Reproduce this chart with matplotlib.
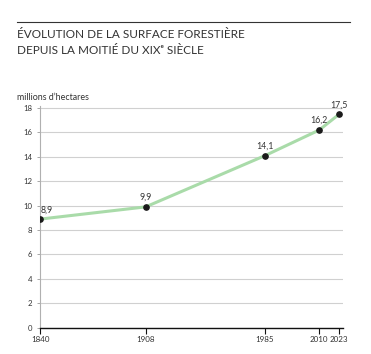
import numpy as np
import matplotlib.pyplot as plt

# data
years = [1840, 1908, 1985, 2010, 2023]
surface = [8.9, 9.9, 14.1, 16.2, 17.5]  # millions d'hectares
labels = ["8,9", "9,9", "14,1", "16,2", "17,5"]
yticks = [0, 2, 4, 6, 8, 10, 12, 14, 16, 18]

plt.rcParams['font.family'] = ['Lato', 'DejaVu Sans']

# the source chart is not quite linear in time: piecewise scale
anchor_yr = np.array([1700, 1840, 1985, 2010, 2023, 2200])
anchor_px = np.array([-176.7, 40.3, 265.0, 319.3, 339.3, 613.6])

def fwd(x):
    return np.interp(x, anchor_yr, anchor_px)

def inv(p):
    return np.interp(p, anchor_px, anchor_yr)

W, H = 371, 354
fig = plt.figure(figsize=(W / 100, H / 100), dpi=100)
ax = fig.add_axes([40.3 / W, 26.3 / H, 303 / W, 221.5 / H])
ax.set_xscale('function', functions=(fwd, inv))

ax.plot(years, surface, color='#a9dba9', lw=2.2, zorder=2,
        solid_capstyle='round', solid_joinstyle='round')
ax.plot(years, surface, 'o', color='#1a1a1a', ms=3.8, zorder=3)

for i, (x, y, t) in enumerate(zip(years, surface, labels)):
    if i == 0:
        ax.annotate(t, (x, y), xytext=(0.5, 3.5), textcoords='offset points',
                    ha='left', va='bottom', fontsize=6.3, color='#333333')
    else:
        ax.annotate(t, (x, y), xytext=(0, 3.5), textcoords='offset points',
                    ha='center', va='bottom', fontsize=6.3, color='#333333')

ax.set_xlim(1840, 2025.6)
ax.set_ylim(0, 18.15)
ax.set_xticks(years)
ax.set_xticklabels([str(y) for y in years])
ax.set_yticks(yticks)
ax.grid(axis='y', color='#d0d0d0', lw=0.8)
ax.set_axisbelow(True)

for s in ['top', 'right']:
    ax.spines[s].set_visible(False)
ax.spines['left'].set_color('#b0b0b0')
ax.spines['left'].set_linewidth(0.8)
ax.spines['bottom'].set_color('#111111')
ax.spines['bottom'].set_linewidth(1.0)

ax.tick_params(axis='y', length=2, width=0.6, color='#999999', pad=4,
               labelsize=5.6, labelcolor='#333333')
ax.tick_params(axis='x', length=4, width=0.8, color='#111111', pad=2,
               labelsize=5.8, labelcolor='#333333')

# header
fig.add_artist(plt.Line2D([17 / W, 350 / W], [1 - 22 / H, 1 - 22 / H],
                          color='#333333', lw=0.8))
fig.text(17 / W, 1 - 35 / H, "ÉVOLUTION DE LA SURFACE FORESTIÈRE",
         fontsize=8.5, color='#333333', va='center', ha='left')
fig.text(17 / W, 1 - 50 / H, "DEPUIS LA MOITIÉ DU XIXᵉ SIÈCLE",
         fontsize=8.5, color='#333333', va='center', ha='left')
fig.text(17 / W, 1 - 97 / H, "millions d’hectares",
         fontsize=6.4, color='#333333', va='center', ha='left')

fig.savefig('out.png', dpi=100)
